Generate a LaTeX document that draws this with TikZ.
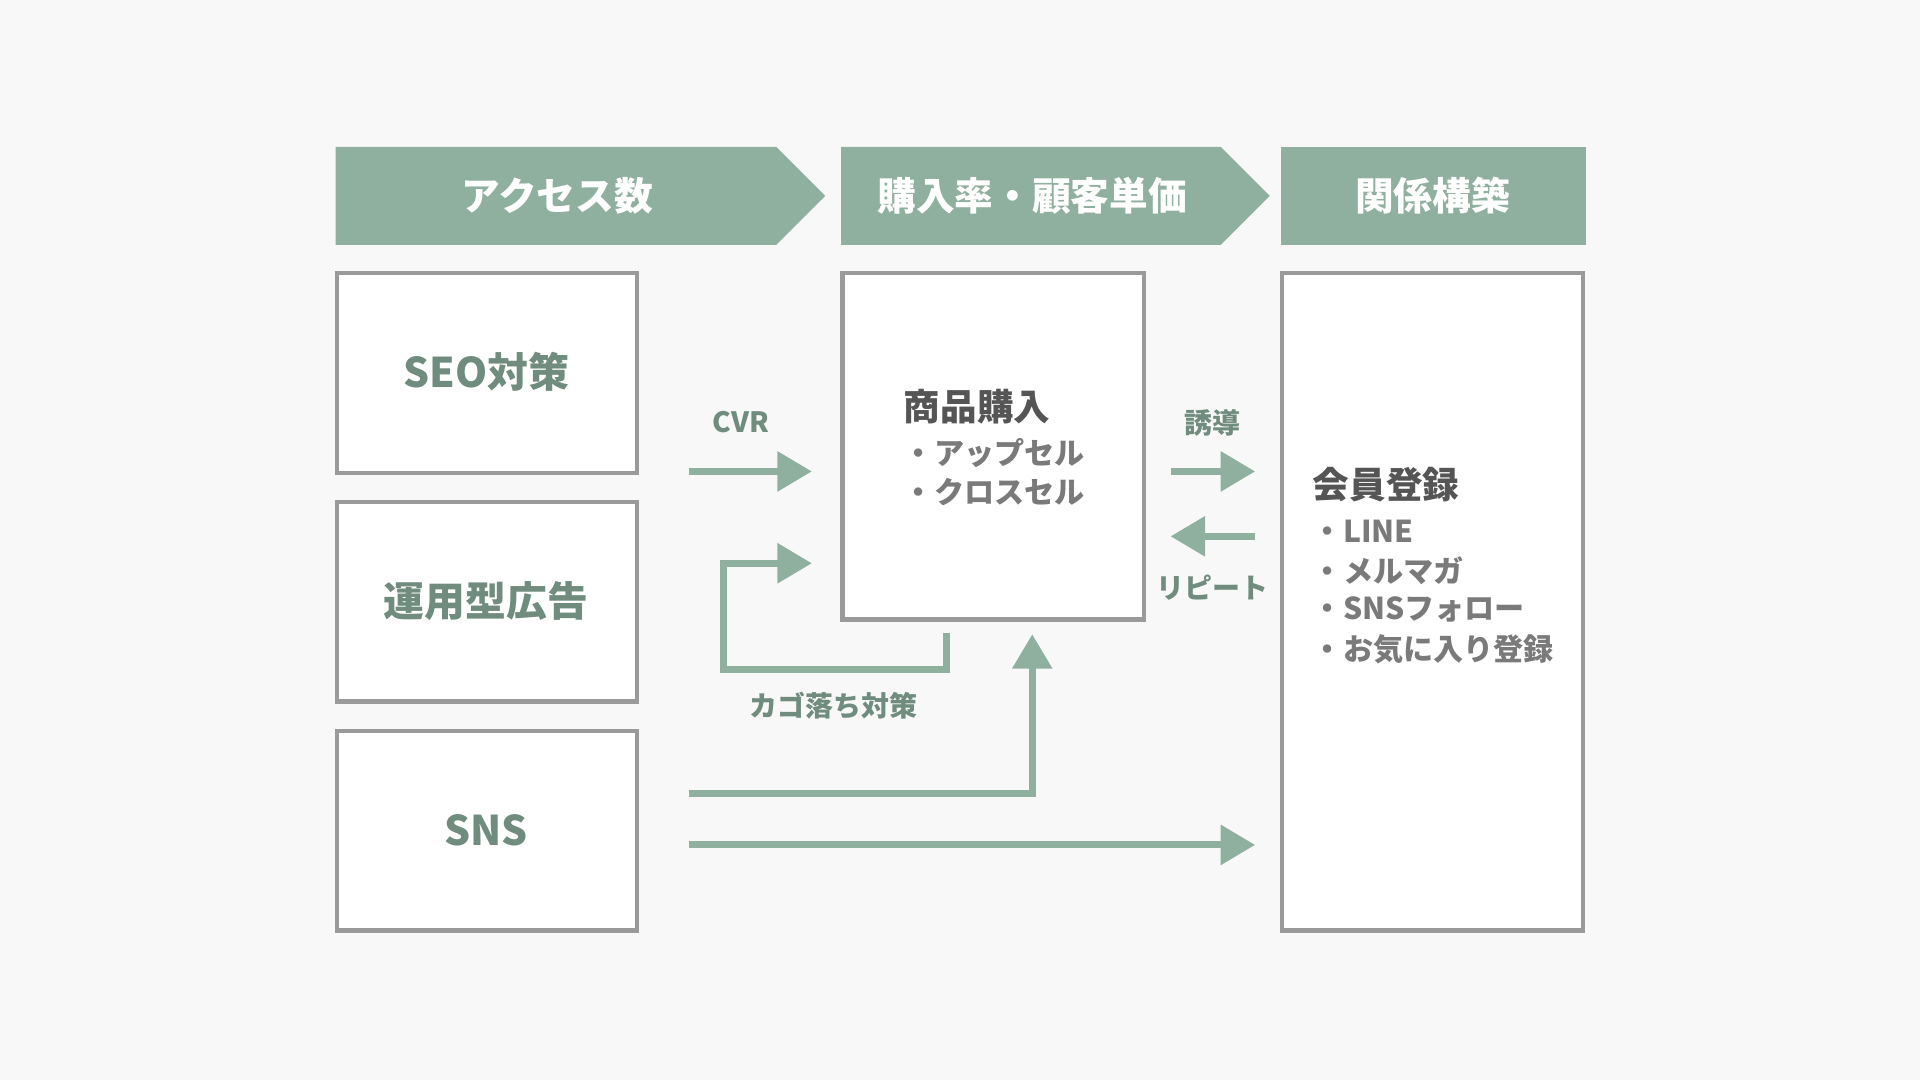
\documentclass[tikz,border=0pt]{standalone}
\usepackage{fontspec}
\setmainfont{Noto Sans CJK JP}
\usetikzlibrary{arrows.meta}
\definecolor{hdr}{HTML}{8FAF9F}
\definecolor{gtxt}{HTML}{6F8C7E}
\definecolor{bord}{HTML}{9A9A9A}
\definecolor{bg}{HTML}{F8F8F8}
\definecolor{dk}{HTML}{555555}
\definecolor{lt}{HTML}{7A7A7A}
\tikzset{
 box/.style={draw=bord,line width=2pt,fill=white},
 hd/.style={text=white,font=\bfseries\fontsize{18}{20}\selectfont},
 bt/.style={text=gtxt,font=\bfseries\fontsize{19}{22}\selectfont},
 lab/.style={text=gtxt,font=\bfseries\fontsize{13}{15}\selectfont},
 bul/.style={text=lt,font=\bfseries\fontsize{14}{17}\selectfont,anchor=west},
 ar/.style={draw=hdr,line width=3.2pt,-{Triangle[length=16pt,width=18pt]}},
}
\begin{document}
\begin{tikzpicture}[x=0.02cm,y=-0.02cm]
\fill[bg] (0,0) rectangle (1568,882);
\useasboundingbox (0,0) rectangle (1568,882);
\fill[hdr] (274,120)--(634,120)--(674,160)--(634,200)--(274,200)--cycle;
\fill[hdr] (687,120)--(997,120)--(1037,160)--(997,200)--(687,200)--cycle;
\fill[hdr] (1046,120) rectangle (1295,200);
\node[hd] (h1) at (455,160) {アクセス数};
\node[hd] (h2) at (843,160) {購入率・顧客単価};
\node[hd] (h3) at (1170,160) {関係構築};
\draw[box] (275,223) rectangle (520,386);
\draw[box] (275,410) rectangle (520,573);
\draw[box] (275,597) rectangle (520,760);
\node[bt] (seo) at (397,304) {SEO対策};
\node[bt] (ad) at (397,491) {運用型広告};
\node[bt] (sns) at (397,678) {SNS};
\draw[box] (688,223) rectangle (934,506);
\draw[box] (1047,223) rectangle (1293,760);
\node[text=dk,font=\bfseries\fontsize{17}{20}\selectfont,anchor=west] (p) at (732,332) {商品購入};
\node[bul] (u1) at (732,370) {・アップセル};
\node[bul] (u2) at (732,402) {・クロスセル};
\node[text=dk,font=\bfseries\fontsize{17}{20}\selectfont,anchor=west] (m) at (1066,396) {会員登録};
\node[bul] (m1) at (1066,434) {・LINE};
\node[bul] (m2) at (1066,466) {・メルマガ};
\node[bul] (m3) at (1066,498) {・SNSフォロー};
\node[bul] (m4) at (1066,530) {・お気に入り登録};
\coordinate (a1) at (563,385); \coordinate (a2) at (663,385);
\draw[ar] (a1)--(a2);
\node[lab] (cvr) at (605,345) {CVR};
\coordinate (c1) at (773,517); \coordinate (c2) at (663,460);
\draw[ar] (c1)--(773,547)--(591,547)--(591,460)--(c2);
\node[lab] (cart) at (681,576) {カゴ落ち対策};
\coordinate (s1) at (563,648); \coordinate (s2) at (843,518);
\draw[ar] (s1)--(843,648)--(s2);
\coordinate (t1) at (563,690); \coordinate (t2) at (1025,690);
\draw[ar] (t1)--(t2);
\coordinate (g1) at (956,385); \coordinate (g2) at (1025,385);
\draw[ar] (g1)--(g2);
\node[lab] (yd) at (990,345) {誘導};
\coordinate (r1) at (1025,438); \coordinate (r2) at (956,438);
\draw[ar] (r1)--(r2);
\node[lab] (rp) at (990,480) {リピート};
\end{tikzpicture}
\end{document}
